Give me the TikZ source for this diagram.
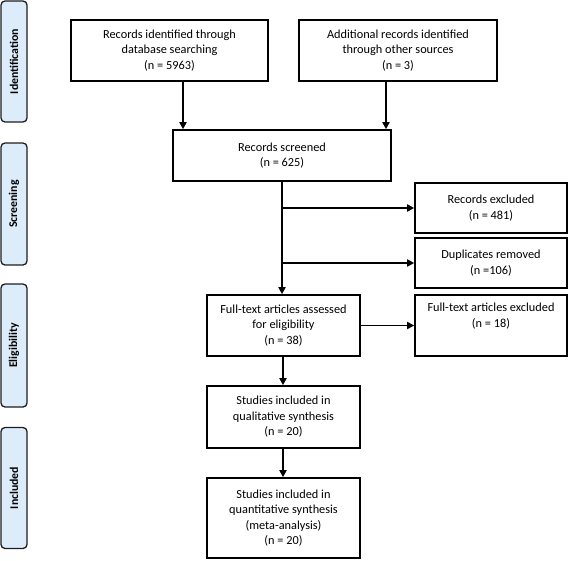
\documentclass[tikz,border=0pt]{standalone}
\usepackage{fontspec}
\setmainfont{Carlito}
\usetikzlibrary{arrows.meta}
\definecolor{sidefill}{RGB}{221,236,251}
\definecolor{sideline}{RGB}{30,30,30}
\tikzset{
  box/.style={draw=black, line width=1.6pt, align=center, inner sep=0pt,
    font=\fontsize{12.3}{15.5}\selectfont},
  side/.style={draw=sideline, line width=1.3pt, fill=sidefill, rounded corners=4pt,
    minimum width=26pt, inner sep=0pt},
  sidetext/.style={rotate=90, font=\fontsize{11.8}{14}\selectfont\bfseries},
  arr/.style={line width=1.7pt, -{Triangle[length=7pt,width=7pt]}},
  ln/.style={line width=1.7pt}
}
\begin{document}
\begin{tikzpicture}[x=1pt,y=-1pt]
\useasboundingbox (0,0) rectangle (568,560);
% side labels
\node[side, minimum height=121pt] (sid) at (14,61.5) {};
\node[sidetext] (sidt) at (sid.center) {Identification};
\node[side, minimum height=122pt] (sscr) at (14,204) {};
\node[sidetext] (sscrt) at (sscr.center) {Screening};
\node[side, minimum height=123pt] (sel) at (14,345.5) {};
\node[sidetext] (selt) at (sel.center) {Eligibility};
\node[side, minimum height=121pt] (sinc) at (14,488) {};
\node[sidetext] (sinct) at (sinc.center) {Included};
% boxes
\node[box, minimum width=197pt, minimum height=61pt] (db) at (169.5,50.5)
  {Records identified through\\database searching\\(n = 5963)};
\node[box, minimum width=198pt, minimum height=61pt] (add) at (398,50.5)
  {Additional records identified\\through other sources\\(n = 3)};
\node[box, minimum width=218pt, minimum height=51pt] (scr) at (282,155.5)
  {Records screened\\(n = 625)};
\node[box, minimum width=152pt, minimum height=50pt] (rex) at (491,208)
  {Records excluded\\(n = 481)};
\node[box, minimum width=152pt, minimum height=50pt] (dup) at (491,263)
  {Duplicates removed\\(n =106)};
\node[box, minimum width=153pt, minimum height=61pt] (ft) at (283.5,325.5)
  {Full-text articles assessed\\for eligibility\\(n = 38)};
\node[box, minimum width=152pt, minimum height=61pt] (ftx) at (491,325.5)
  {Full-text articles excluded\\(n = 18)\\\strut};
\node[box, minimum width=153pt, minimum height=62pt] (qual) at (283.5,417)
  {Studies included in\\qualitative synthesis\\(n = 20)};
\node[box, minimum width=153pt, minimum height=80pt] (quant) at (283.5,518)
  {Studies included in\\quantitative synthesis\\(meta-analysis)\\(n = 20)};
% connectors
\draw[arr] (db.south -| 183,0) -- (scr.north -| 183,0);
\draw[arr] (add.south -| 386,0) -- (scr.north -| 386,0);
\draw[arr] (scr.south -| 282,0) -- (ft.north -| 282,0);
\coordinate (b1) at (282,208);
\coordinate (b2) at (282,263);
\draw[arr] (b1) -- (rex.west);
\draw[arr] (b2) -- (dup.west);
\draw[arr] (ft.east) -- (ftx.west);
\draw[arr] (ft.south -| 283,0) -- (qual.north -| 283,0);
\draw[arr] (qual.south -| 283,0) -- (quant.north -| 283,0);
\end{tikzpicture}
\end{document}
